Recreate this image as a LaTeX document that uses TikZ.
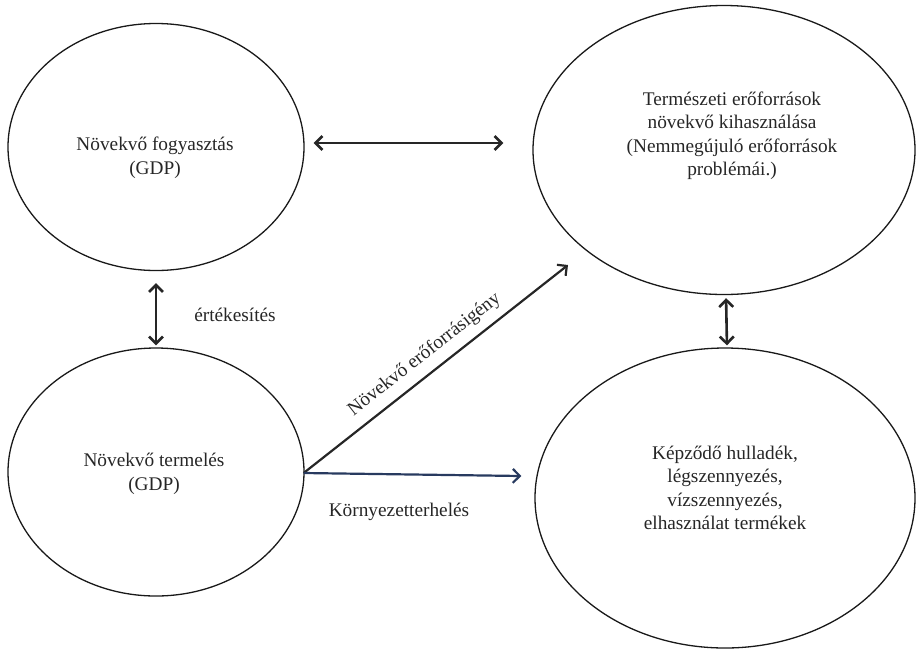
\documentclass[tikz,border=0pt]{standalone}
\usepackage{fontspec}
\setmainfont{Liberation Serif}
\usetikzlibrary{shapes.geometric,arrows.meta}
\begin{document}
\begin{tikzpicture}[x=1pt,y=-1pt,
  blob/.style={draw,ellipse,line width=1.3pt,inner sep=0pt,black!90},
  txt/.style={align=center,font=\fontsize{19.3}{23.5}\selectfont,text=black!85},
  dbl/.style={{Straight Barb[length=7pt,width=14pt,line width=2.6pt]}-{Straight Barb[length=7pt,width=14pt,line width=2.6pt]},line width=2.6pt,black!85},
  sgl/.style={-{Straight Barb[length=7pt,width=14pt,line width=2.2pt]},line width=2.2pt,black!85},
  bluearr/.style={-{Straight Barb[length=7pt,width=14pt,line width=2.2pt]},line width=2.2pt,color={rgb,255:red,40;green,58;blue,95}}]
\useasboundingbox (0,0) rectangle (917,654);
\node[blob,minimum width=296pt,minimum height=247pt] (tl) at (156,147) {};
\node[blob,minimum width=296pt,minimum height=248pt] (bl) at (156,472) {};
\node[blob,minimum width=382pt,minimum height=289pt] (tr) at (724,150) {};
\node[blob,minimum width=380pt,minimum height=300pt] (br) at (725,498) {};
\node[txt] (tlt) at (155,158) {Növekvő fogyasztás\\(GDP)};
\node[txt] (blt) at (154,474) {Növekvő termelés\\(GDP)};
\node[txt] (trt) at (732,136) {Természeti erőforrások\\növekvő kihasználása\\(Nemmegújuló erőforrások\\problémái.)};
\node[txt] (brt) at (725,488) {Képződő hulladék,\\légszennyezés,\\vízszennyezés,\\elhasználat termékek};
\draw[dbl] ([shift={(9,-4)}]tl.east) -- ([shift={(-29,-7)}]tr.west);
\draw[dbl,shorten <=12pt,shorten >=2pt] (tl.south) -- (bl.north);
\node[txt] (ert) at (235,315) {értékesítés};
\draw[dbl,shorten <=3pt,shorten >=2pt] ([xshift=2pt]tr.south) -- ([xshift=2pt]br.north);
\draw[sgl] ([shift={(-1,1)}]bl.east) -- node[txt,sloped,above=5pt] {Növekvő erőforrásigény} ([shift={(-156,115)}]tr.center);
\draw[bluearr] ([shift={(-1,1)}]bl.east) -- ([shift={(-13,-22)}]br.west);
\node[txt] (kor) at (399,512) {Környezetterhelés};
\end{tikzpicture}
\end{document}
